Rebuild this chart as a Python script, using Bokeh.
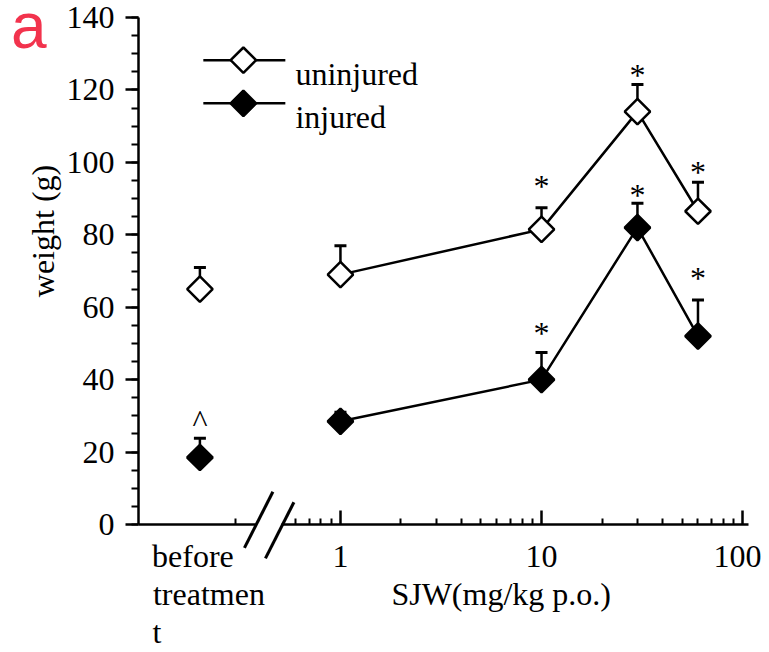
import numpy as np
from bokeh.plotting import figure
from bokeh.models import (FixedTicker, Range1d, LogAxis, CustomJSTickFormatter,
                          AllLabels, ColumnDataSource)
from bokeh.embed import file_html
from bokeh.resources import INLINE
from bokeh.core.properties import value

# ---------------- data ----------------
doses = [1, 10, 30, 60]                    # SJW mg/kg p.o.
before_pos = 0.2                           # position of the "before treatment" group
uninjured = [69, 81.5, 114, 86.5]
uninjured_err = [8, 6, 7.5, 8]
injured = [28.5, 40, 82, 52]
injured_err = [2.5, 7.5, 6.7, 10]
uninjured_before = 65
uninjured_before_err = 6
injured_before = 18.5
injured_before_err = 5.3

# significance marks (x, y, text)
sig_x = [10, 30, 60, 10, 30, 60, 0.2]
sig_y = [93.4, 124.0, 97.2, 53.0, 90.9, 68.2, 28.5]
sig_text = ["*", "*", "*", "*", "*", "*", "^"]

y_ticks = [0, 20, 40, 60, 80, 100, 120, 140]
y_minor = list(range(0, 141, 5))
x_ticks = [1, 10, 100]
x_minor_left = [0.3]
x_minor_right = [0.6, 0.7, 0.8, 0.9, 2, 3, 4, 5, 6, 7, 8, 9,
                 20, 30, 40, 50, 60, 70, 80, 90]
axis_break = (0.3776, 0.5086)              # gap in the x axis

# x tick labels (position, text); the first and third carry the group / axis texts
xlabel_pos = [0.2218, 1, 6.30, 10, 100]
xlabel_txt = ["before\u00a0\u00a0\u00a0\u00a0\ntreatmen\nt" + "\u00a0" * 13,
              "1", "\u00a0\nSJW(mg/kg p.o.)", "10", "100"]
y_label = "\u00a0" * 10 + "weight (g)"

series_names = ["uninjured", "injured"]
legend_y = [128.2, 116.3]

FONT = "Liberation Serif"
FS = "32px"

p = figure(width=761, height=652, x_axis_type="log", x_axis_location=None,
           x_range=Range1d(0.099, 107), y_range=Range1d(0, 140),
           output_backend="svg", toolbar_location=None,
           min_border_left=138, min_border_right=13, min_border_top=17,
           min_border_bottom=128)
p.outline_line_color = None
p.grid.visible = False
p.background_fill_color = "white"

# panel letter
p.title.text = "a"
p.title.text_font = "Liberation Sans"
p.title.text_font_size = "64px"
p.title.text_font_style = "normal"
p.title.text_color = "#f2334d"
p.title.align = "left"
p.title.offset = -127.5
p.title.vertical_align = "bottom"
p.title.standoff = -89


def style_axis(ax):
    ax.axis_line_width = 2.5
    ax.major_tick_line_width = 2.5
    ax.minor_tick_line_width = 2
    ax.axis_line_color = "black"
    ax.major_tick_line_color = "black"
    ax.minor_tick_line_color = "black"
    ax.major_label_text_color = "black"
    ax.major_label_text_font = FONT
    ax.major_label_text_font_size = FS


def bare(ax):
    ax.axis_line_color = None
    ax.major_tick_line_color = None
    ax.minor_tick_line_color = None
    ax.major_tick_in = 0
    ax.major_tick_out = 0
    ax.minor_tick_in = 0
    ax.minor_tick_out = 0


empty_fmt = CustomJSTickFormatter(code="return '';")

# x axis, left piece (before the break)
xl = LogAxis(ticker=FixedTicker(ticks=[], minor_ticks=x_minor_left),
             bounds=(0.099, axis_break[0]), formatter=empty_fmt)
style_axis(xl)
xl.minor_tick_in = 6
xl.minor_tick_out = 0
xl.major_tick_out = 0
xl.major_label_standoff = 0
xl.major_label_text_font_size = "0px"

# x axis, right piece (after the break)
xr = LogAxis(ticker=FixedTicker(ticks=x_ticks, minor_ticks=x_minor_right),
             bounds=(axis_break[1], 107), formatter=empty_fmt)
style_axis(xr)
xr.major_tick_in = 14
xr.major_tick_out = 0
xr.minor_tick_in = 6
xr.minor_tick_out = 0
xr.major_label_standoff = 0
xr.major_label_text_font_size = "0px"

# x tick labels and texts under the axis
xt = LogAxis(ticker=FixedTicker(ticks=xlabel_pos, minor_ticks=[]),
             formatter=CustomJSTickFormatter(args=dict(labels=xlabel_txt),
                                             code="return labels[index];"),
             major_label_policy=AllLabels())
style_axis(xt)
bare(xt)
xt.major_label_standoff = 13
xt.major_label_text_line_height = 1.06

# the two slashes of the axis break
xs = LogAxis(ticker=FixedTicker(ticks=[0.486], minor_ticks=[]),
             formatter=CustomJSTickFormatter(code="return '\u2014\\n\u2014';"),
             major_label_orientation=1.10, major_label_policy=AllLabels())
style_axis(xs)
bare(xs)
xs.major_label_text_font_size = "62px"
xs.major_label_text_line_height = 0.345
xs.major_label_standoff = -158

for ax in (xl, xr, xt, xs):
    p.add_layout(ax, "below")

# y axis
ya = p.yaxis[0]
style_axis(ya)
ya.ticker = FixedTicker(ticks=y_ticks, minor_ticks=y_minor)
ya.major_tick_in = 0
ya.major_tick_out = 13
ya.minor_tick_in = 0
ya.minor_tick_out = 7
ya.major_label_standoff = 11
ya.axis_label = y_label
ya.axis_label_text_font = FONT
ya.axis_label_text_font_size = FS
ya.axis_label_text_font_style = "normal"
ya.axis_label_text_color = "#000000"
ya.axis_label_standoff = 3

# series lines
p.line(doses, uninjured, line_color="black", line_width=2.5)
p.line(doses, injured, line_color="black", line_width=2.5)

# error bars (upper only)
all_x = doses + [before_pos] + doses + [before_pos]
all_y = uninjured + [uninjured_before] + injured + [injured_before]
all_e = uninjured_err + [uninjured_before_err] + injured_err + [injured_before_err]
tops = [y + e for y, e in zip(all_y, all_e)]
p.segment(x0=all_x, y0=all_y, x1=all_x, y1=tops, line_color="black", line_width=2.5)
p.scatter(all_x, tops, marker="dash", size=12, line_color="black", line_width=3)

# markers
mk = dict(marker="square", angle=np.pi / 4, size=18, line_color="black", line_width=2.5)
p.scatter(doses + [before_pos], uninjured + [uninjured_before], fill_color="white", **mk)
p.scatter(doses + [before_pos], injured + [injured_before], fill_color="black", **mk)

# significance marks
src = ColumnDataSource(dict(x=sig_x, y=sig_y, t=sig_text))
p.text(x="x", y="y", text="t", source=src, text_font=value(FONT), text_font_size=FS,
       text_align="center", text_baseline="middle", text_color="black")

# legend (drawn by hand so that the diamonds keep their orientation)
for name, ly, fill in zip(series_names, legend_y, ["white", "black"]):
    p.line([0.208, 0.532], [ly, ly], line_color="black", line_width=2.5)
    p.scatter([0.329], [ly], fill_color=fill, **mk)
    p.text(x=[0.597], y=[ly - 3.7], text=[name], text_font=value(FONT),
           text_font_size=FS, text_align="left", text_baseline="alphabetic",
           text_color="black")

open("out.html", "w").write(file_html(p, INLINE))
